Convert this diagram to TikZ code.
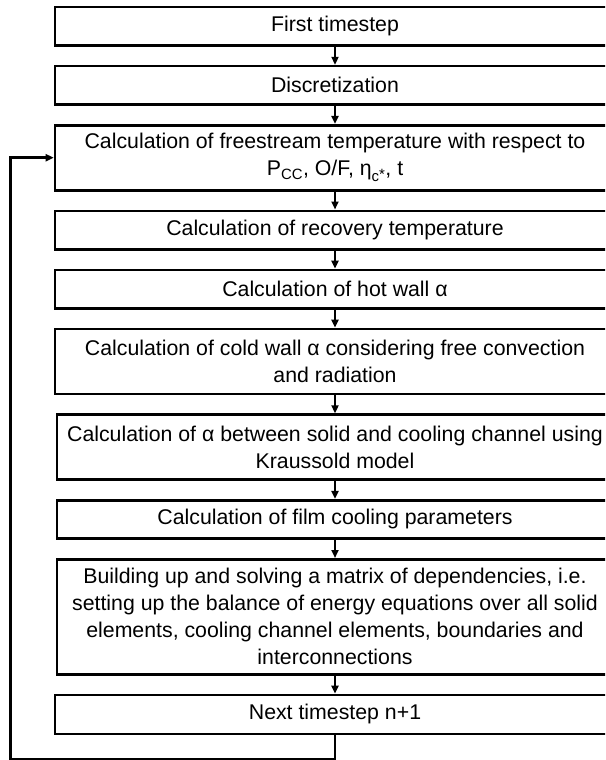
\documentclass[tikz,border=0pt]{standalone}
\usepackage{fontspec}
\setmainfont{Liberation Sans}
\usetikzlibrary{positioning}
\usetikzlibrary{arrows.meta}

\tikzset{
    stepbox/.style={rectangle, draw, line width=2.6pt, fill=white, inner sep=0pt, align=center, minimum width=\boxWidth pt, font=\fontsize{21.3pt}{27pt}\selectfont},
    flow/.style={-{Triangle[length=8pt,width=7pt]}, line width=2pt},
    loopback/.style={-{Triangle[length=8pt,width=7pt]}, line width=2.5pt},
}

\begin{document}
\begin{tikzpicture}[x=1pt, y=1pt]
    \pgfmathsetmacro{\boxWidth}{560}
    \pgfmathsetmacro{\oneLine}{38.5}
    \pgfmathsetmacro{\twoLine}{65}
    \pgfmathsetmacro{\boxGap}{18}

    \useasboundingbox (0,0) rectangle (605,-760);
    \clip (0,0) rectangle (605,-760);

    \node [stepbox, minimum height=\oneLine pt] (first) at (335,-26.25) {First timestep};
    \node [stepbox, minimum height=\oneLine pt, below=\boxGap pt of first] (discr) {Discretization};
    \node [stepbox, minimum height=\twoLine pt, below=\boxGap pt of discr] (freestream) {Calculation of freestream temperature with respect to\\P\textsubscript{CC}, O/F, η\textsubscript{c\raisebox{0.35ex}{*}}, t};
    \node [stepbox, minimum height=\oneLine pt, below=\boxGap pt of freestream] (recovery) {Calculation of recovery temperature};
    \node [stepbox, minimum height=\oneLine pt, below=\boxGap pt of recovery] (hotwall) {Calculation of hot wall α};
    \node [stepbox, minimum height=\twoLine pt, below=\boxGap pt of hotwall] (coldwall) {Calculation of cold wall α considering free convection\\and radiation};
    \node [stepbox, minimum height=\twoLine pt, minimum width=556pt, below=\boxGap pt of coldwall] (kraussold) {Calculation of α between solid and cooling channel using\\Kraussold model};
    \node [stepbox, minimum height=\oneLine pt, minimum width=556pt, below=\boxGap pt of kraussold] (film) {Calculation of film cooling parameters};
    \node [stepbox, minimum height=115pt, minimum width=556pt, below=\boxGap pt of film] (matrix) {Building up and solving a matrix of dependencies, i.e.\\setting up the balance of energy equations over all solid\\elements, cooling channel elements, boundaries and\\interconnections};
    \node [stepbox, minimum height=39pt, below=\boxGap pt of matrix] (next) {Next timestep n+1};

    \foreach \from/\to in {first/discr, discr/freestream, freestream/recovery, recovery/hotwall, hotwall/coldwall, coldwall/kraussold, kraussold/film, film/matrix, matrix/next}
        \draw [flow] (\from.south) -- (\to.north);

    \coordinate (loopbottom) at ([yshift=-24pt]next.south);
    \coordinate (loopleft) at ([xshift=-43pt]freestream.west);
    \draw [loopback] (next.south) -- (loopbottom) -| (loopleft) -- (freestream.west);
\end{tikzpicture}
\end{document}
